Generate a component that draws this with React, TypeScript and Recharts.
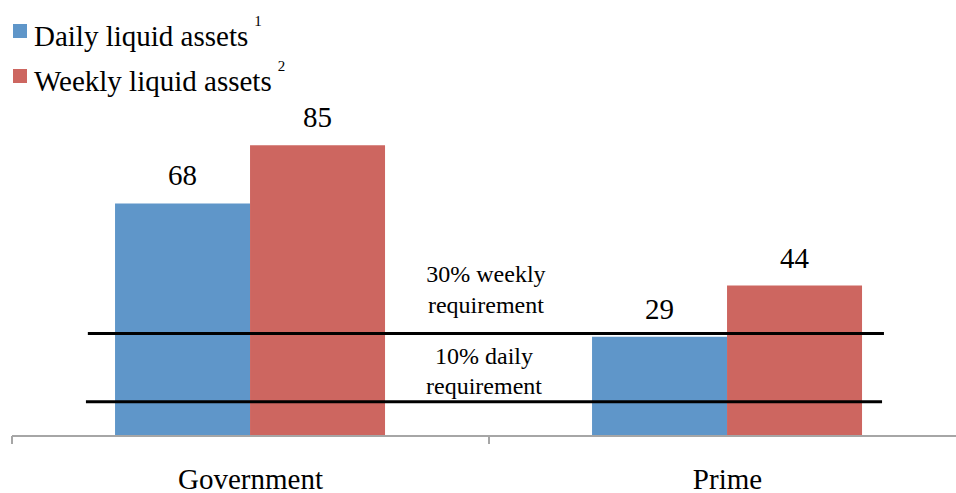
import { BarChart, Bar, XAxis, YAxis, ReferenceLine, LabelList, Legend } from "recharts"

// Liquid assets by fund type, percent
const categories = ["Government", "Prime"]
const dailyLiquid = [68, 29]
const weeklyLiquid = [85, 44]
const requirements = [
  { value: 30, lines: ["30% weekly", "requirement"] },
  { value: 10, lines: ["10% daily", "requirement"] },
]

const data = categories.map((name, i) => ({
  name,
  pos: i + 0.5,
  daily: dailyLiquid[i],
  weekly: weeklyLiquid[i],
}))

const FONT = "'Liberation Serif', 'Times New Roman', serif"
const BLUE = "#5f96c9"
const RED = "#cd6660"

// reference line extents on the 0..2 category scale
const lineSpans = [
  [0.159, 1.828],
  [0.155, 1.824],
]
const labelOffsets = [
  [-51, -20],
  [-38, -8],
]

const AxisTick = (props: any) => {
  const { x, y, payload } = props
  const v = payload.value
  if (Number.isInteger(v)) {
    return <line x1={x} x2={x} y1={y} y2={y + 8} stroke="#a6a6a6" strokeWidth={2} />
  }
  return (
    <text x={x} y={y + 53} textAnchor="middle" fontSize={29} fontFamily={FONT} fill="#000">
      {categories[Math.floor(v)]}
    </text>
  )
}

const LegendBox = () => {
  const items = [
    { label: "Daily liquid assets", sup: "1", color: BLUE },
    { label: "Weekly liquid assets", sup: "2", color: RED },
  ]
  return (
    <div style={{ position: "relative", width: 320, height: 100, fontFamily: FONT }}>
      {items.map((it, i) => (
        <div key={it.label} style={{ position: "absolute", left: 13, top: 24 + i * 45, height: 30 }}>
          <span style={{ position: "absolute", left: 0, top: 0, width: 14, height: 14, background: it.color }} />
          <span style={{ position: "absolute", left: 21, top: -3, fontSize: 29, lineHeight: "30px", whiteSpace: "nowrap", color: "#000" }}>
            {it.label}
            <span style={{ fontSize: 15, position: "relative", top: -20, left: 6 }}>{it.sup}</span>
          </span>
        </div>
      ))}
    </div>
  )
}

const reqLabel = (idx: number) => (props: any) => {
  const vb = props.viewBox
  const cx = vb.x + vb.width / 2
  return (
    <g>
      {requirements[idx].lines.map((t, j) => (
        <text key={t} x={cx} y={vb.y + labelOffsets[idx][j]} textAnchor="middle" fontSize={24} fontFamily={FONT} fill="#000">
          {t}
        </text>
      ))}
    </g>
  )
}

export default function App() {
  return (
    <div style={{ position: "fixed", top: 0, left: 0, width: 956, height: 493, overflow: "hidden", background: "#fff" }}>
      <BarChart
        width={966}
        height={493}
        data={data}
        margin={{ top: 94, right: 0, left: 12, bottom: 0 }}
        barCategoryGap="21.6%"
        barGap={0}
      >
        <XAxis
          dataKey="pos"
          type="number"
          domain={[0, 2]}
          ticks={[0, 0.5, 1, 1.5, 2]}
          height={57}
          axisLine={{ stroke: "#a6a6a6", strokeWidth: 2 }}
          tickLine={false}
          tickSize={0}
          tickMargin={0}
          tick={<AxisTick />}
          interval={0}
        />
        <YAxis hide domain={[0, 100]} />
        <Legend
          layout="horizontal"
          verticalAlign="middle"
          align="center"
          wrapperStyle={{ top: 0, left: 0, width: 320, height: 100 }}
          content={<LegendBox />}
        />
        <Bar dataKey="daily" fill={BLUE} isAnimationActive={false}>
          <LabelList dataKey="daily" position="top" offset={18} fontSize={29} fontFamily={FONT} fill="#000" />
        </Bar>
        <Bar dataKey="weekly" fill={RED} isAnimationActive={false}>
          <LabelList dataKey="weekly" position="top" offset={18} fontSize={29} fontFamily={FONT} fill="#000" />
        </Bar>
        {requirements.map((r, i) => (
          <ReferenceLine
            key={r.value}
            segment={[
              { x: lineSpans[i][0], y: r.value },
              { x: lineSpans[i][1], y: r.value },
            ]}
            stroke="#000"
            strokeWidth={3}
            ifOverflow="visible"
            label={reqLabel(i)}
          />
        ))}
      </BarChart>
    </div>
  )
}
